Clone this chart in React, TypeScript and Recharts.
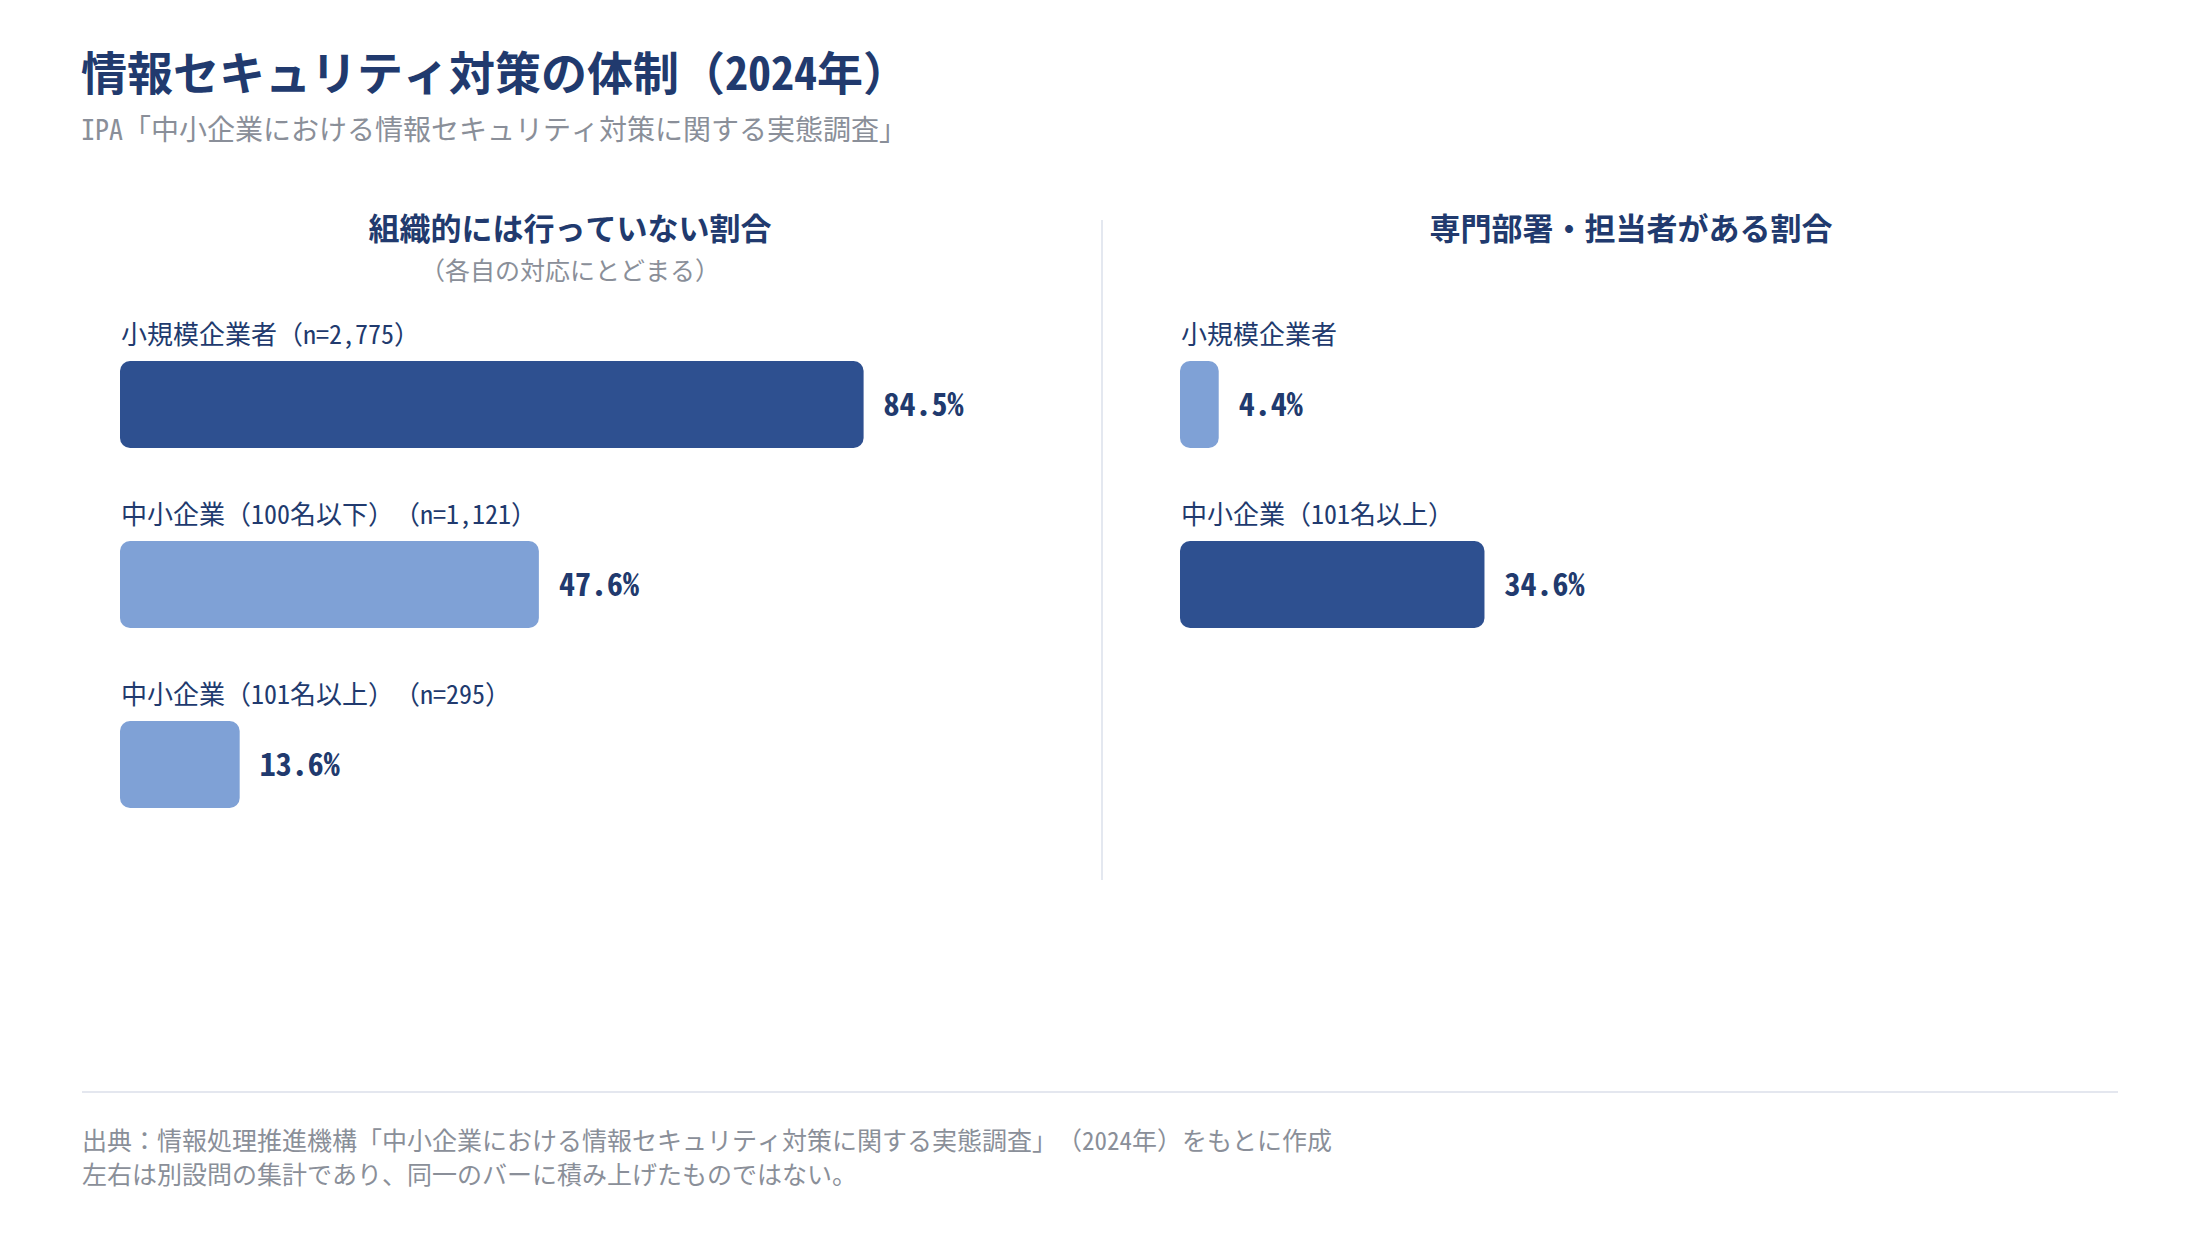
import React from 'react';
import { BarChart, Bar, XAxis, YAxis, Cell, LabelList } from 'recharts';

// left panel: 組織的には行っていない割合
const leftCategories = ['小規模企業者（n=2,775）', '中小企業（100名以下）（n=1,121）', '中小企業（101名以上）（n=295）'];
const leftValues = [84.5, 47.6, 13.6];

// right panel: 専門部署・担当者がある割合
const rightCategories = ['小規模企業者', '中小企業（101名以上）'];
const rightValues = [4.4, 34.6];

const FONT = "'Noto Sans Mono CJK JP', 'Noto Sans CJK JP', monospace";
const NAVY = '#213a6e';
const GRAY = '#8a8f99';
const DARK_BAR = '#2e5090';
const LIGHT_BAR = '#7fa1d6';
const ROW = 180;

const CategoryLabel = (props: any) => {
  const { x, y, value } = props;
  return (
    <text x={Number(x) + 1} y={Number(y) - 29} fill={NAVY} fontSize={26} fontFamily={FONT} dominantBaseline="central">
      {value}
    </text>
  );
};

const ValueLabel = (props: any) => {
  const { x, y, width, height, value } = props;
  return (
    <text
      x={Number(x) + Number(width) + 20}
      y={Number(y) + Number(height) / 2 - 3}
      fill={NAVY}
      fontSize={32}
      fontWeight={700}
      fontFamily={FONT}
      dominantBaseline="central"
    >
      {`${Number(value).toFixed(1)}%`}
    </text>
  );
};

const Panel: React.FC<{ categories: string[]; values: number[] }> = ({ categories, values }) => {
  const max = Math.max(...values);
  const data = categories.map((name, i) => ({ name, value: values[i] }));
  return (
    <BarChart
      width={1020}
      height={ROW * data.length}
      data={data}
      layout="vertical"
      margin={{ top: 0, right: 140, bottom: 0, left: 0 }}
    >
      <XAxis type="number" domain={[0, 100]} hide />
      <YAxis type="category" dataKey="name" hide />
      <Bar dataKey="value" barSize={87} radius={10} isAnimationActive={false}>
        {data.map((d, i) => (
          <Cell key={`c-${i}`} fill={d.value === max ? DARK_BAR : LIGHT_BAR} />
        ))}
        <LabelList dataKey="name" content={CategoryLabel} />
        <LabelList dataKey="value" content={ValueLabel} />
      </Bar>
    </BarChart>
  );
};

const abs = (style: React.CSSProperties): React.CSSProperties => ({ position: 'absolute', whiteSpace: 'nowrap', ...style });

export default function App() {
  return (
    <div
      style={{
        position: 'fixed',
        left: 0,
        top: 0,
        width: 2200,
        height: 1240,
        background: '#fff',
        fontFamily: FONT,
        overflow: 'hidden',
        textSpacingTrim: 'space-all',
      } as React.CSSProperties}
    >
      <div style={abs({ left: 81, top: 70 - 30, lineHeight: '60px', fontSize: 46, fontWeight: 700, color: NAVY })}>
        情報セキュリティ対策の体制（2024年）
      </div>
      <div style={abs({ left: 81, top: 128 - 20, lineHeight: '40px', fontSize: 28, color: GRAY })}>
        IPA「中小企業における情報セキュリティ対策に関する実態調査」
      </div>

      <div style={abs({ left: 570 - 400, width: 800, textAlign: 'center', top: 227 - 20, lineHeight: '40px', fontSize: 31, fontWeight: 700, color: NAVY })}>
        組織的には行っていない割合
      </div>
      <div style={abs({ left: 570 - 400, width: 800, textAlign: 'center', top: 269 - 16, lineHeight: '32px', fontSize: 25, color: GRAY })}>
        （各自の対応にとどまる）
      </div>
      <div style={abs({ left: 1631 - 400, width: 800, textAlign: 'center', top: 227 - 20, lineHeight: '40px', fontSize: 31, fontWeight: 700, color: NAVY })}>
        専門部署・担当者がある割合
      </div>

      <div style={abs({ left: 1101, top: 220, width: 2, height: 660, background: '#e4e8f0' })} />

      <div style={abs({ left: 120, top: 314 })}>
        <Panel categories={leftCategories} values={leftValues} />
      </div>
      <div style={abs({ left: 1180, top: 314 })}>
        <Panel categories={rightCategories} values={rightValues} />
      </div>

      <div style={abs({ left: 82, top: 1091, width: 2036, height: 2, background: '#e4e7ef' })} />
      <div style={abs({ left: 82, top: 1139 - 17, lineHeight: '34px', fontSize: 25, color: GRAY })}>
        出典：情報処理推進機構「中小企業における情報セキュリティ対策に関する実態調査」（2024年）をもとに作成
      </div>
      <div style={abs({ left: 82, top: 1173 - 17, lineHeight: '34px', fontSize: 25, color: GRAY })}>
        左右は別設問の集計であり、同一のバーに積み上げたものではない。
      </div>
    </div>
  );
}
